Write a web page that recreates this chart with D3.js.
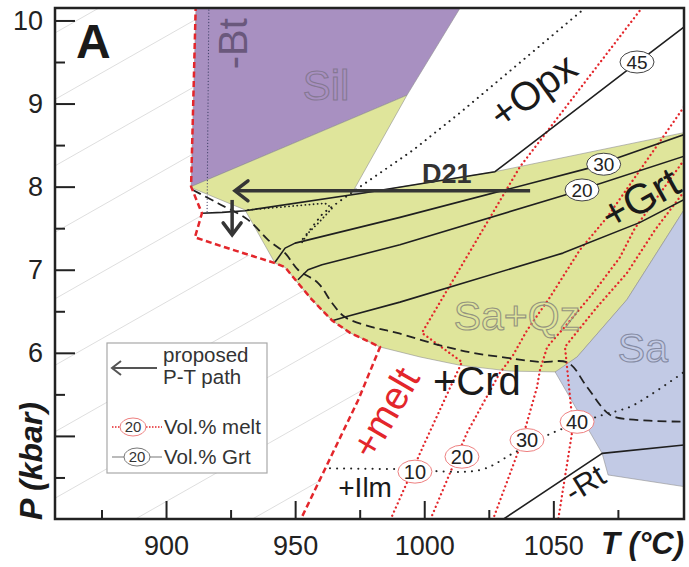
<!DOCTYPE html>
<html>
<head>
<meta charset="utf-8">
<script src="https://cdn.jsdelivr.net/npm/d3@7"></script>
<style>
  body { margin: 0; background: #fff; }
  svg { display: block; font-family: "Liberation Sans", Arial, sans-serif; }
</style>
</head>
<body>
<div id="chart"></div>
<script>
// tick values
var xMajor = [900, 950, 1000, 1050],
    xMinor = [875, 925, 975, 1025, 1075],
    yMajor = [5, 6, 7, 8, 9, 10],
    yMinor = [4.5, 5.5, 6.5, 7.5, 8.5, 9.5],
    yLabelled = [6, 7, 8, 9, 10];

// fields, [T (°C), P (kbar)]
var silField = [[911.6,10.15],[1013.9,10.15],[993.3,9.10],[909.7,8.0]];
var saQzField = [[909.7,8.0],[993.3,9.10],[972.0,7.92],[975.9,7.92],[1027.4,8.18],[1100.6,8.65],
  [1100.6,7.72],[1078.5,6.64],[1059.2,5.95],[1051.4,5.77],[1033.2,5.78],[1013.9,5.85],
  [998.4,5.95],[982.9,6.07],[971.3,6.24],[964.3,6.39],[956.5,6.64],[951.1,6.84],
  [946.1,7.03],[942.2,7.08],[930.6,7.72],[910.4,7.98]];
var saField = [[1100.6,7.72],[1078.5,6.64],[1059.2,5.95],[1050.7,5.77],[1068.9,4.79],
  [1071.2,4.53],[1100.6,4.39]];

// reaction lines
var solidus = [[911.6,10.3],[909.7,8.0],[913.9,7.68],[911.2,7.39],[922.8,7.27],[942.2,7.08],
  [946.1,7.03],[951.1,6.84],[956.5,6.64],[964.3,6.39],[971.3,6.24],[982.9,6.07],
  [974.4,5.43],[950.7,3.9]];
var crdIn = [[910.4,7.96],[920.1,7.80],[931.8,7.60],[939.5,7.36],[946.1,7.20],[951.1,7.00],
  [958.9,6.84],[964.3,6.60],[969.3,6.43],[979.8,6.31],[989.5,6.24],[1006.1,6.09],
  [1018.9,6.00],[1032.1,5.94],[1044.8,5.89],[1055.7,5.88],[1063.0,5.59],[1070.8,5.28],
  [1074.7,5.22],[1100.6,5.17]];
var opxIn = [[1064.2,10.2],[1013.9,8.89],[995.7,8.44],[972.4,7.94],[960.8,7.68],[952.7,7.36]];
var btOut = [[916.6,10.2],[915.9,7.69]];
var minorDotted = [[931.8,7.72],[961.6,7.80],[964.3,7.74],[958.9,7.56],[955.0,7.44],[952.7,7.33]];
var ilmOut = [[963.5,4.61],[990.6,4.60],[1021.6,4.59],[1034.4,4.79],[1049.9,5.04],[1068.9,5.25],
  [1079.7,5.35],[1087.4,5.49],[1097.9,5.71],[1100.6,5.77]];
var rtOut = [[1025.9,3.9],[1068.9,4.79],[1100.6,4.89]];

// garnet isopleths (vol.%)
var grt45 = [[913.9,7.68],[921.7,7.69],[930.6,7.71],[975.9,7.92],[1027.4,8.18],[1077.8,9.38],[1101,9.93]];
var grt30 = [[942.2,7.09],[946.1,7.26],[950.0,7.32],[990.6,7.63],[1063.4,8.22],[1101,8.63]];
var grt20 = [[951.1,6.88],[955.0,7.00],[960.4,7.06],[990.6,7.30],[1054.5,7.90],[1101,8.37]];
var grt10 = [[964.7,6.39],[969.3,6.43],[990.6,6.61],[1053.7,7.20],[1083.6,7.57],[1101,7.85]];
var grtLabels = [["45",1082.4,9.50],["30",1069.5,8.27],["20",1061.1,7.96]];

// melt isopleths (vol.%)
var melt10 = [[1085.5,10.2],[1037.1,8.24],[999.1,6.24],[1014.6,5.89],[999.5,4.87],[985.6,3.9]];
var melt20 = [[1100.6,8.96],[1070.8,7.63],[1060.3,7.24],[1048.7,6.67],[1039.8,6.27],[1034.0,5.95],
  [1029.3,5.76],[1016.6,5.04],[1001.1,3.9]];
var melt30 = [[1100.6,8.32],[1081.6,7.50],[1075.8,7.15],[1065.4,6.72],[1054.9,6.33],[1047.6,6.07],
  [1044.8,5.79],[1043.7,5.59],[1037.1,4.87],[1025.5,3.9]];
var melt40 = [[1100.6,7.94],[1089.4,7.48],[1078.5,6.96],[1066.9,6.55],[1059.6,6.27],[1054.5,6.07],
  [1055.3,5.83],[1057.6,5.11],[1051.4,3.9]];
var meltLabels = [["10",996.4,4.57],["20",1014.6,4.75],["30",1039.8,4.95],["40",1059.2,5.17]];

// proposed P-T path D21
var pathD21 = [[1041.0,7.95],[926.7,7.95]];
var pathDown = [[925.6,7.84],[925.6,7.42]];

// faint background lines, P at T = 857 and at T = 1100.6
var bgLines = [[9.85,14.15],[9.05,13.35],[8.25,12.55],[7.45,11.75],[6.65,10.95],[5.85,10.15],
  [5.05,9.35],[4.25,8.55],[3.45,7.75],[2.65,6.95]];

var W = 689, H = 567;
var x = d3.scaleLinear().domain([857, 1100.6]).range([55, 684]);
var y = d3.scaleLinear().domain([4, 10.15]).range([519, 8]);

var svg = d3.select("#chart").append("svg").attr("width", W).attr("height", H);
var defs = svg.append("defs");
defs.append("clipPath").attr("id", "plot").append("rect")
  .attr("x", 55).attr("y", 8).attr("width", 629).attr("height", 511);

var line = d3.line().x(function(d) { return x(d[0]); }).y(function(d) { return y(d[1]); });
var smooth = d3.line().x(function(d) { return x(d[0]); }).y(function(d) { return y(d[1]); })
  .curve(d3.curveCatmullRom.alpha(0.5));

// subsolidus area for the background lines
defs.append("clipPath").attr("id", "sub").append("path")
  .attr("d", line([[850, 10.3]].concat(solidus).concat([[850, 3.9]])) + "Z");

var plot = svg.append("g").attr("clip-path", "url(#plot)");

plot.append("g").attr("clip-path", "url(#sub)")
  .selectAll("line").data(bgLines).enter().append("line")
    .attr("x1", x(857)).attr("x2", x(1100.6))
    .attr("y1", function(d) { return y(d[0]); })
    .attr("y2", function(d) { return y(d[1]); })
    .attr("stroke", "#dadada").attr("stroke-width", 0.9);

// fields
function field(data, color) {
  plot.append("path").attr("d", line(data) + "Z")
    .attr("fill", color).attr("stroke", "#8f8f8f").attr("stroke-width", 0.6);
}
field(silField, "#a890c1");
field(saQzField, "#dfe59b");
field(saField, "#c2cae5");

function draw(data, gen, color, width, dash, cap) {
  plot.append("path").attr("d", gen(data))
    .attr("fill", "none").attr("stroke", color).attr("stroke-width", width)
    .attr("stroke-dasharray", dash || null)
    .attr("stroke-linecap", cap || "butt")
    .attr("stroke-linejoin", "round");
}

var red = "#e3262b";

// melt isopleths
[melt10, melt20, melt30, melt40].forEach(function(m) {
  draw(m, line, red, 2.3, "0.1,4.4", "round");
});

// garnet isopleths
[grt45, grt30, grt20, grt10].forEach(function(g) { draw(g, line, "#1f1f1f", 1.6); });

draw(crdIn, smooth, "#222", 1.8, "9,5");
draw(opxIn, line, "#222", 2, "0.1,6", "round");
draw(minorDotted, line, "#222", 1.8, "0.1,4", "round");
draw(btOut, line, "#44446a", 1.2, "0.1,3", "round");
draw(ilmOut, smooth, "#222", 2, "0.1,7", "round");
draw(rtOut, line, "#1f1f1f", 1.6);
draw(solidus, line, red, 2.5, "6,3.5");

// field names
function label(txt, T, P, size, opts) {
  opts = opts || {};
  var t = svg.append("text")
    .attr("transform", "translate(" + x(T) + "," + y(P) + ")" + (opts.rot ? " rotate(" + opts.rot + ")" : ""))
    .attr("text-anchor", opts.anchor || "middle")
    .attr("font-size", size)
    .attr("font-weight", opts.bold ? "bold" : null)
    .text(txt);
  if (opts.outline) {
    t.attr("fill", "none").attr("stroke", opts.outline).attr("stroke-width", 1.1);
  } else {
    t.attr("fill", opts.color || "#1a1a1a");
  }
  if (opts.central) t.attr("dy", "0.35em");
  return t;
}

label("-Bt", 931.5, 9.72, 40, {rot: -90, color: "#6a587c"});
label("Sil", 962.0, 9.04, 42, {outline: "#857892"});
label("+Opx", 1042.1, 9.16, 40, {rot: -36, central: true});
label("D21", 999.1, 8.04, 27, {anchor: "start", bold: true, color: "#333"});
label("+Grt", 1083.6, 7.86, 42, {rot: -29, central: true});
label("Sa+Qz", 1035.9, 6.27, 41, {outline: "#93937f"});
label("Sa", 1084.7, 5.89, 41, {outline: "#858ba3"});
label("+Crd", 1020.4, 5.49, 40);
label("+melt", 984.8, 5.28, 39, {rot: -60, central: true, color: red});
label("+Ilm", 977.1, 4.26, 28);
label("-Rt", 1062.2, 4.43, 31, {rot: -32, central: true});

// isopleth tags
function tag(d, stroke, rx, ry, size) {
  var g = svg.append("g").attr("transform", "translate(" + x(d[1]) + "," + y(d[2]) + ")");
  g.append("ellipse").attr("rx", rx).attr("ry", ry)
    .attr("fill", "#fff").attr("stroke", stroke).attr("stroke-width", 1);
  g.append("text").attr("text-anchor", "middle").attr("dy", "0.35em")
    .attr("font-size", size).attr("fill", "#222").text(d[0]);
}
grtLabels.forEach(function(d) { tag(d, "#444", 17, 11, 19); });
meltLabels.forEach(function(d) { tag(d, "#ee8080", 17, 11.5, 20); });

// P-T path arrows
var ink = "#353535";
svg.append("path").attr("d", line(pathD21))
  .attr("stroke", ink).attr("stroke-width", 3.5).attr("fill", "none");
var tip = [x(pathD21[1][0]), y(pathD21[1][1])];
svg.append("path")
  .attr("d", "M" + (tip[0] + 13) + "," + (tip[1] - 10) + "L" + tip[0] + "," + tip[1] + "L" + (tip[0] + 13) + "," + (tip[1] + 10))
  .attr("stroke", ink).attr("stroke-width", 3.5).attr("fill", "none").attr("stroke-linecap", "round");
svg.append("path").attr("d", line(pathDown))
  .attr("stroke", ink).attr("stroke-width", 3.5).attr("fill", "none");
var tip2 = [x(pathDown[1][0]), y(pathDown[1][1])];
svg.append("path")
  .attr("d", "M" + (tip2[0] - 9) + "," + (tip2[1] - 12) + "L" + tip2[0] + "," + tip2[1] + "L" + (tip2[0] + 9) + "," + (tip2[1] - 12))
  .attr("stroke", ink).attr("stroke-width", 3.5).attr("fill", "none").attr("stroke-linecap", "round");

// legend
var leg = svg.append("g");
leg.append("rect").attr("x", 107).attr("y", 343).attr("width", 160).attr("height", 130)
  .attr("fill", "#fff").attr("stroke", "#a8a8a8").attr("stroke-width", 1.2);
leg.append("path").attr("d", "M112,368H157M121,361L112,368L121,375")
  .attr("stroke", "#555").attr("stroke-width", 2).attr("fill", "none");
leg.append("text").attr("x", 163).attr("y", 362).attr("font-size", 20.5).attr("fill", "#333").text("proposed");
leg.append("text").attr("x", 163).attr("y", 384).attr("font-size", 20.5).attr("fill", "#333").text("P-T path");
leg.append("path").attr("d", "M112,427H121M146,427H162")
  .attr("stroke", red).attr("stroke-width", 1.4).attr("stroke-dasharray", "1.5,1.5");
leg.append("ellipse").attr("cx", 133).attr("cy", 427).attr("rx", 13).attr("ry", 9)
  .attr("fill", "#fff").attr("stroke", "#ee8080");
leg.append("text").attr("x", 133).attr("y", 427).attr("dy", "0.35em").attr("text-anchor", "middle")
  .attr("font-size", 15).attr("fill", "#333").text("20");
leg.append("text").attr("x", 164).attr("y", 434).attr("font-size", 20.5).attr("fill", "#333").text("Vol.% melt");
leg.append("path").attr("d", "M112,457H124M150,457H162")
  .attr("stroke", "#777").attr("stroke-width", 1.2);
leg.append("ellipse").attr("cx", 137).attr("cy", 457).attr("rx", 13).attr("ry", 9)
  .attr("fill", "#fff").attr("stroke", "#777");
leg.append("text").attr("x", 137).attr("y", 457).attr("dy", "0.35em").attr("text-anchor", "middle")
  .attr("font-size", 15).attr("fill", "#333").text("20");
leg.append("text").attr("x", 164).attr("y", 464).attr("font-size", 20.5).attr("fill", "#333").text("Vol.% Grt");

// axes, ticks pointing inward
function styleAxis(g) {
  g.select(".domain").remove();
  g.selectAll("line").attr("stroke", "#222").attr("stroke-width", 2);
  g.selectAll("text").attr("font-size", 27).attr("fill", "#222")
    .attr("font-family", "'Liberation Sans', Arial, sans-serif");
}
svg.append("g").attr("transform", "translate(0,519)")
  .call(d3.axisBottom(x).tickValues(xMajor).tickSize(-18).tickPadding(17).tickFormat(d3.format("d")))
  .call(styleAxis);
svg.append("g").attr("transform", "translate(0,519)")
  .call(d3.axisBottom(x).tickValues(xMinor).tickSize(-9).tickFormat(""))
  .call(styleAxis);
svg.append("g").attr("transform", "translate(55,0)")
  .call(d3.axisLeft(y).tickValues(yMajor).tickSize(-20).tickPadding(12)
    .tickFormat(function(d) { return yLabelled.indexOf(d) >= 0 ? d : ""; }))
  .call(styleAxis);
svg.append("g").attr("transform", "translate(55,0)")
  .call(d3.axisLeft(y).tickValues(yMinor).tickSize(-10).tickFormat(""))
  .call(styleAxis);

// frame
svg.append("rect").attr("x", 55).attr("y", 8).attr("width", 629).attr("height", 511)
  .attr("fill", "none").attr("stroke", "#222").attr("stroke-width", 2.5);

// panel letter and axis titles
svg.append("text").attr("x", 76).attr("y", 58).attr("font-size", 48).attr("font-weight", "bold")
  .attr("fill", "#1a1a1a").text("A");
svg.append("text").attr("x", 684).attr("y", 554).attr("text-anchor", "end")
  .attr("font-size", 31).attr("font-weight", "bold").attr("font-style", "italic")
  .attr("fill", "#1a1a1a").text("T (°C)");
svg.append("text").attr("transform", "translate(42,520) rotate(-90)")
  .attr("font-size", 32).attr("font-weight", "bold").attr("font-style", "italic")
  .attr("fill", "#1a1a1a").text("P (kbar)");
</script>
</body>
</html>
